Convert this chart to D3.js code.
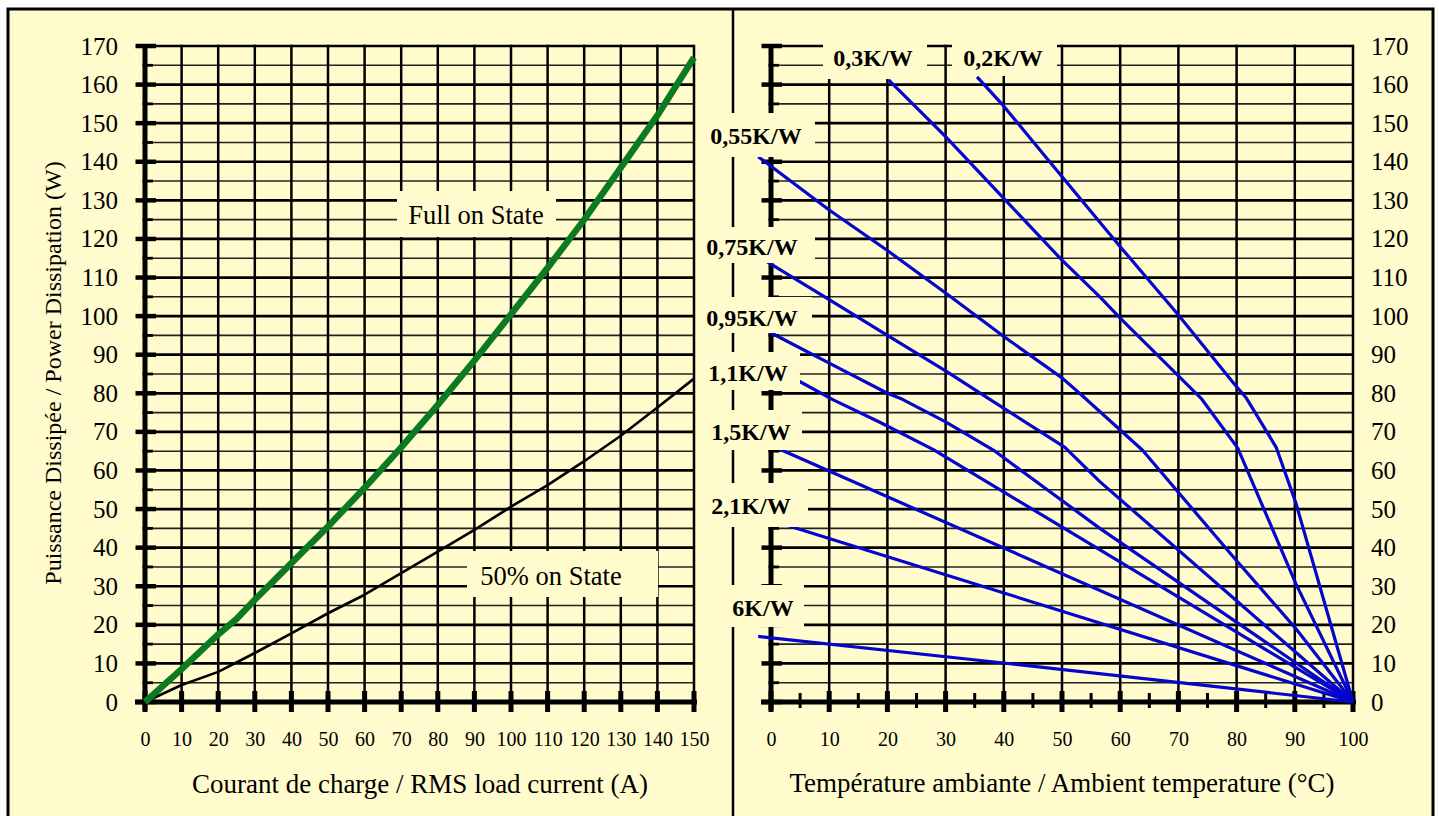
<!DOCTYPE html>
<html>
<head>
<meta charset="utf-8">
<script src="https://cdn.jsdelivr.net/npm/d3@7"></script>
<style>
  html, body {
    margin: 0;
    padding: 0;
    background: #fff;
  }

  .curve {
    fill: none;
    stroke-linejoin: round;
  }
</style>
</head>
<body>
<svg id="chart" width="1439" height="816"></svg>
<script>
  // left chart: dissipated power vs RMS load current
  const currentTicks = d3.range(0, 151, 10);
  const powerTicks = d3.range(0, 171, 10);
  const fullOnState = [
    [0, 0], [10, 8.5], [20, 17.5], [25, 21.5], [30, 26.5], [40, 36], [50, 45.5],
    [60, 55.5], [70, 66], [80, 77], [90, 88.5], [100, 100.5], [110, 112.5],
    [120, 125], [130, 138.5], [140, 152], [150, 167],
  ];
  const halfOnState = [
    [0, 0], [10, 4.4], [20, 7.8], [30, 12.7], [40, 17.8], [50, 23], [60, 27.8],
    [70, 33.4], [80, 39], [90, 44.6], [100, 50.6], [110, 56.2], [120, 62.4],
    [130, 69], [140, 76.3], [150, 83.8],
  ];

  // right chart: dissipated power vs ambient temperature, one line per heatsink
  const tempTicks = d3.range(0, 101, 10);
  const heatsinkNames = ['0,2K/W', '0,3K/W', '0,55K/W', '0,75K/W', '0,95K/W',
    '1,1K/W', '1,5K/W', '2,1K/W', '6K/W'];
  const heatsinkCurves = [
    [[35.4, 162], [40, 154.4], [47.7, 140.3], [60, 118], [70, 100.3], [79.6, 82.4],
      [81.7, 78.7], [86.8, 66], [90.2, 51.5], [100, 0]],
    [[20.2, 161.2], [30, 146.5], [40, 130.5], [50, 114.5], [56.5, 105], [60, 99.5],
      [70, 84.5], [73.9, 78.7], [80.2, 65.8], [90.2, 30.6], [100, 0]],
    [[-2.2, 141.3], [10, 127.5], [20, 117], [30, 106], [40, 94.7], [50, 84],
      [53.4, 79.5], [63.8, 65.3], [80, 36.6], [90.2, 19], [100, 0]],
    [[-2.2, 115.5], [0, 113.5], [10, 104.3], [20, 95], [30, 85.8], [37, 79],
      [50.5, 66], [56.5, 57.1], [100, 0]],
    [[-2.2, 97.4], [0.7, 95.1], [10, 87.8], [20, 80], [22.5, 78.5], [30, 72.6],
      [38.2, 65.3], [56.5, 45], [100, 0]],
    [[-2.2, 88.8], [5, 83], [10.7, 78.3], [18.7, 72.5], [27.9, 65.4], [100, 0]],
    [[-2.2, 68.1], [1.8, 65.3], [100, 0]],
    [[-2.2, 48.7], [2.7, 45.8], [100, 0]],
    [[-2.2, 17], [40, 10.1], [100, 0]],
  ];

  // label boxes (cover the grid like the original), pixel layout
  const heatsinkBoxes = [
    {x0: 952, x1: 1057, y0: 38, y1: 76, cx: 1003, cy: 58},
    {x0: 823, x1: 927, y0: 38, y1: 79, cx: 873, cy: 58},
    {x0: 703, x1: 815, y0: 113, y1: 157, cx: 756, cy: 136},
    {x0: 703, x1: 815, y0: 227, y1: 263, cx: 752, cy: 247},
    {x0: 703, x1: 812, y0: 297, y1: 333, cx: 752, cy: 318},
    {x0: 703, x1: 800, y0: 352, y1: 390, cx: 748, cy: 373},
    {x0: 703, x1: 802, y0: 410, y1: 450, cx: 751, cy: 432},
    {x0: 703, x1: 808, y0: 483, y1: 527, cx: 751, cy: 506},
    {x0: 703, x1: 804, y0: 585, y1: 627, cx: 763, cy: 608},
  ];

  const serif = "'Liberation Serif', 'Times New Roman', Times, serif";
  const cream = '#fffbcc';
  const svg = d3.select('#chart');

  const xL = d3.scaleLinear().domain([0, 150]).range([145, 694]);
  const xR = d3.scaleLinear().domain([0, 100]).range([771, 1353]);
  const y = d3.scaleLinear().domain([0, 170]).range([702, 46]);

  // panel
  svg.append('rect')
    .attr('x', 8).attr('y', 9)
    .attr('width', 1425).attr('height', 830)
    .attr('fill', cream)
    .attr('stroke', '#000')
    .attr('stroke-width', 3);

  svg.append('line')
    .attr('x1', 733).attr('x2', 733)
    .attr('y1', 9).attr('y2', 816)
    .attr('stroke', '#000')
    .attr('stroke-width', 2.5);

  function drawGrid(x, xTicks) {
    let g = svg.append('g');
    let x0 = x.range()[0];
    let x1 = x.range()[1];

    g.selectAll('.hgrid')
      .data(d3.range(5, 171, 5))
      .enter().append('line')
      .attr('x1', x0).attr('x2', x1)
      .attr('y1', (d) => y(d)).attr('y2', (d) => y(d))
      .attr('stroke', (d) => d % 10 === 0 ? '#000' : '#222')
      .attr('stroke-width', (d) => d % 10 === 0 ? 2.7 : 1.6);

    g.selectAll('.vgrid')
      .data(xTicks.slice(1))
      .enter().append('line')
      .attr('x1', (d) => x(d)).attr('x2', (d) => x(d))
      .attr('y1', y(170) - 1.3).attr('y2', y(0))
      .attr('stroke', '#000')
      .attr('stroke-width', 2.5);

    // y axis line and ticks
    g.append('line')
      .attr('x1', x0).attr('x2', x0)
      .attr('y1', y(170) - 2).attr('y2', y(0) + 8)
      .attr('stroke', '#000')
      .attr('stroke-width', 5);

    g.selectAll('.ytick')
      .data(d3.range(0, 171, 5))
      .enter().append('line')
      .attr('x1', (d) => d % 10 === 0 ? x0 - 9.5 : x0 - 2.5)
      .attr('x2', (d) => d % 10 === 0 ? x0 + 11 : x0 + 8)
      .attr('y1', (d) => y(d)).attr('y2', (d) => y(d))
      .attr('stroke', '#000')
      .attr('stroke-width', (d) => d % 10 === 0 ? 4.5 : 2.8);

    // x axis line and ticks
    g.append('line')
      .attr('x1', x0 - 10).attr('x2', x1 + 3)
      .attr('y1', y(0)).attr('y2', y(0))
      .attr('stroke', '#000')
      .attr('stroke-width', 5);

    g.selectAll('.xtick')
      .data(xTicks)
      .enter().append('line')
      .attr('x1', (d) => x(d)).attr('x2', (d) => x(d))
      .attr('y1', y(0) - 11).attr('y2', y(0) + 10)
      .attr('stroke', '#000')
      .attr('stroke-width', 5);
  }

  drawGrid(xL, currentTicks);
  drawGrid(xR, tempTicks);

  // minor temperature ticks
  svg.append('g').selectAll('line')
    .data(d3.range(5, 100, 10))
    .enter().append('line')
    .attr('x1', (d) => xR(d)).attr('x2', (d) => xR(d))
    .attr('y1', y(0) - 9).attr('y2', y(0) + 6)
    .attr('stroke', '#000')
    .attr('stroke-width', 3);

  // curves
  let lineL = d3.line().x((d) => xL(d[0])).y((d) => y(d[1]));
  let lineR = d3.line().x((d) => xR(d[0])).y((d) => y(d[1]));

  svg.append('path')
    .attr('class', 'curve')
    .attr('d', lineL(halfOnState))
    .attr('stroke', '#000')
    .attr('stroke-width', 2.6);

  svg.append('path')
    .attr('class', 'curve')
    .attr('d', lineL(fullOnState))
    .attr('stroke', '#0b7a20')
    .attr('stroke-width', 6.5);

  svg.append('g').selectAll('path')
    .data(heatsinkCurves)
    .enter().append('path')
    .attr('class', 'curve')
    .attr('d', lineR)
    .attr('stroke', '#0505cc')
    .attr('stroke-width', 3.2);

  // label boxes
  const stateBoxes = [
    {text: 'Full on State', x0: 397, x1: 556, y0: 191, y1: 237, cx: 476, cy: 215},
    {text: '50% on State', x0: 467, x1: 658, y0: 551, y1: 597, cx: 551, cy: 576},
  ];

  let sb = svg.append('g').selectAll('g')
    .data(stateBoxes)
    .enter().append('g');
  sb.append('rect')
    .attr('x', (d) => d.x0).attr('y', (d) => d.y0)
    .attr('width', (d) => d.x1 - d.x0).attr('height', (d) => d.y1 - d.y0)
    .attr('fill', cream);
  sb.append('text')
    .attr('x', (d) => d.cx).attr('y', (d) => d.cy)
    .attr('dy', '0.35em')
    .attr('text-anchor', 'middle')
    .style('font-size', '26.5px')
    .text((d) => d.text);

  let hb = svg.append('g').selectAll('g')
    .data(heatsinkBoxes)
    .enter().append('g');
  hb.append('rect')
    .attr('x', (d) => d.x0).attr('y', (d) => d.y0)
    .attr('width', (d) => d.x1 - d.x0).attr('height', (d) => d.y1 - d.y0)
    .attr('fill', cream);
  hb.append('text')
    .attr('x', (d) => d.cx).attr('y', (d) => d.cy)
    .attr('dy', '0.35em')
    .attr('text-anchor', 'middle')
    .style('font-size', '24px')
    .style('font-weight', 'bold')
    .text((d, i) => heatsinkNames[i]);

  // tick labels
  function styleAxis(g, size) {
    g.select('.domain').remove();
    g.selectAll('text')
      .attr('fill', '#000')
      .style('font-size', size);
  }

  svg.append('g')
    .attr('transform', 'translate(145,0)')
    .call(d3.axisLeft(y).tickValues(powerTicks).tickSize(0).tickPadding(27))
    .call(styleAxis, '25px');

  svg.append('g')
    .attr('transform', 'translate(1353,0)')
    .call(d3.axisRight(y).tickValues(powerTicks).tickSize(0).tickPadding(18))
    .call(styleAxis, '25px');

  svg.append('g')
    .attr('transform', 'translate(0,' + (y(0) + 27) + ')')
    .call(d3.axisBottom(xL).tickValues(currentTicks).tickSize(0))
    .call(styleAxis, '20px');

  svg.append('g')
    .attr('transform', 'translate(0,' + (y(0) + 27) + ')')
    .call(d3.axisBottom(xR).tickValues(tempTicks).tickSize(0))
    .call(styleAxis, '20px');

  // axis titles
  svg.append('text')
    .attr('x', 420).attr('y', 793)
    .attr('text-anchor', 'middle')
    .style('font-size', '27px')
    .text('Courant de charge / RMS load current (A)');

  svg.append('text')
    .attr('x', 1062).attr('y', 792)
    .attr('text-anchor', 'middle')
    .style('font-size', '27px')
    .text('Température ambiante / Ambient temperature (°C)');

  svg.append('text')
    .attr('transform', 'translate(61,373) rotate(-90)')
    .attr('text-anchor', 'middle')
    .style('font-size', '24px')
    .text('Puissance Dissipée / Power Dissipation (W)');

  svg.selectAll('text')
    .attr('fill', '#000')
    .style('font-family', serif);
</script>
</body>
</html>
